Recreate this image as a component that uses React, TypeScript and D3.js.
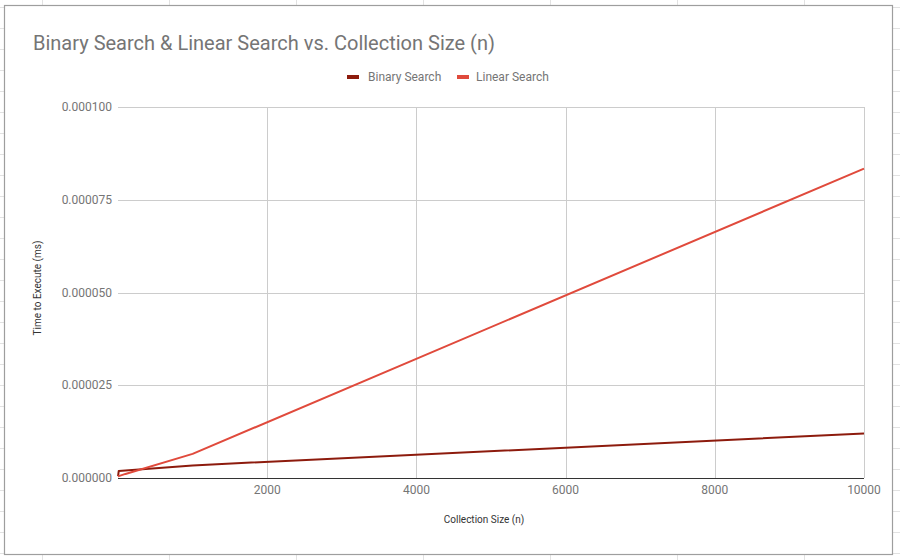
import React from "react";
import * as d3 from "d3";

const sizes = [1, 10, 100, 1000, 10000];
const binarySearch = [0.5e-6, 1.9e-6, 2.0e-6, 3.4e-6, 12.0e-6];
const linearSearch = [0.4e-6, 0.5e-6, 1.1e-6, 6.5e-6, 83.4e-6];
const seriesNames = ["Binary Search", "Linear Search"];
const seriesColors = ["#8d1b0d", "#e04a3c"];
const xTicks = [2000, 4000, 6000, 8000, 10000];
const yTicks = [0, 0.000025, 0.00005, 0.000075, 0.0001];

const W = 900;
const H = 560;
const FONT = "Roboto, 'Noto Sans', sans-serif";

export default function App() {
  const x = d3.scaleLinear().domain([0, 10000]).range([118, 864]);
  const y = d3.scaleLinear().domain([0, 0.0001]).range([478, 107]);
  const line = d3
    .line<[number, number]>()
    .x((d) => x(d[0]))
    .y((d) => y(d[1]));
  const series = [binarySearch, linearSearch].map((vals) =>
    sizes.map((n, i) => [n, vals[i]] as [number, number])
  );

  const cols = d3.range(42, W, 127);
  const rows = d3.range(7, H, 21);

  return (
    <svg
      width={W}
      height={H}
      style={{ position: "fixed", left: 0, top: 0, background: "#fff" }}
      fontFamily={FONT}
    >
      {/* spreadsheet background grid */}
      {cols.map((c) => (
        <line key={"c" + c} x1={c + 0.5} x2={c + 0.5} y1={0} y2={H} stroke="#e2e2e2" />
      ))}
      {rows.map((r) => (
        <line key={"r" + r} x1={0} x2={W} y1={r + 0.5} y2={r + 0.5} stroke="#e2e2e2" />
      ))}
      {/* chart card */}
      <rect x={4.5} y={5.5} width={888} height={549} fill="#fff" stroke="#9e9e9e" strokeWidth={1.2} />

      {/* title */}
      <text x={33} y={50} fontSize={20} fill="#757575">
        Binary Search &amp; Linear Search vs. Collection Size (n)
      </text>

      {/* legend */}
      <g fontSize={12} fill="#757575">
        <rect x={347} y={75} width={12} height={4} fill={seriesColors[0]} />
        <text x={368} y={81}>{seriesNames[0]}</text>
        <rect x={457} y={75} width={12} height={4} fill={seriesColors[1]} />
        <text x={476} y={81}>{seriesNames[1]}</text>
      </g>

      {/* gridlines */}
      {yTicks.slice(1).map((t) => (
        <line key={"gy" + t} x1={118} x2={864} y1={Math.round(y(t)) + 0.5} y2={Math.round(y(t)) + 0.5} stroke="#cccccc" />
      ))}
      {xTicks.map((t) => (
        <line key={"gx" + t} x1={Math.round(x(t)) + 0.5} x2={Math.round(x(t)) + 0.5} y1={107} y2={478} stroke="#cccccc" />
      ))}

      {/* y tick labels */}
      {yTicks.map((t) => (
        <text key={"ty" + t} x={112} y={y(t) + 4} fontSize={12} fill="#757575" textAnchor="end">
          {t.toFixed(6)}
        </text>
      ))}
      {/* x tick labels */}
      {xTicks.map((t) => (
        <text key={"tx" + t} x={x(t)} y={494} fontSize={12} fill="#757575" textAnchor="middle">
          {t}
        </text>
      ))}

      {/* series */}
      {series.map((s, i) => (
        <path key={"s" + i} d={line(s) || ""} fill="none" stroke={seriesColors[i]} strokeWidth={2} strokeLinejoin="round" />
      ))}

      {/* baseline */}
      <line x1={118} x2={864} y1={478.5} y2={478.5} stroke="#333333" />

      {/* axis titles */}
      <text x={484} y={523} fontSize={10} fill="#333" textAnchor="middle">
        Collection Size (n)
      </text>
      <text
        transform={`translate(41,288) rotate(-90)`}
        fontSize={10}
        fill="#333"
        textAnchor="middle"
      >
        Time to Execute (ms)
      </text>
    </svg>
  );
}
